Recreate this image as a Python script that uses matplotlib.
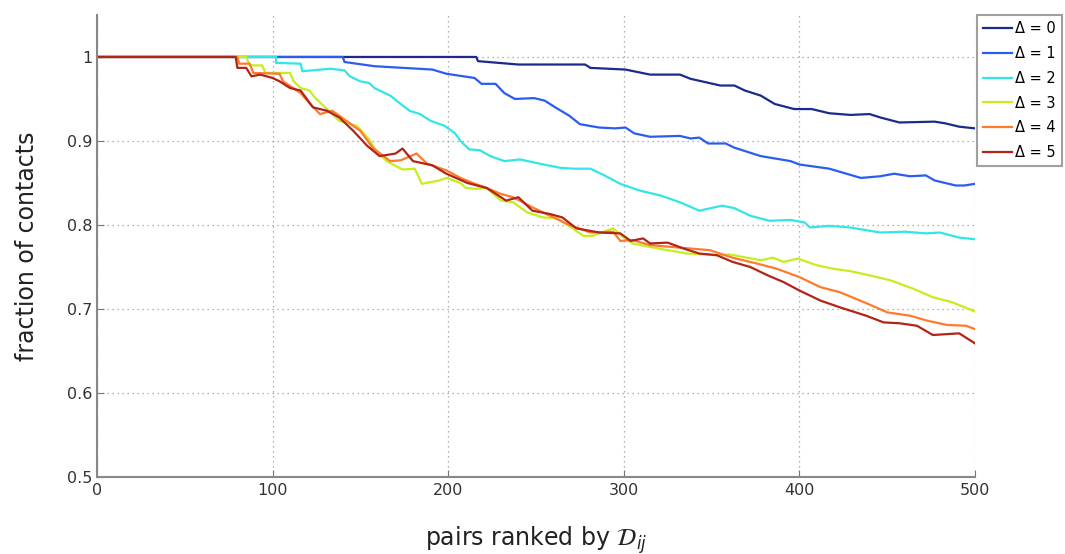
import matplotlib
matplotlib.use("Agg")
import matplotlib.pyplot as plt

# pairs ranked (x) vs fraction of contacts (y), one pair of lists per Delta
x_d0 = [0, 216, 217, 240, 278, 281, 301, 315, 332, 338, 355, 363, 369, 378, 386, 397,
        407, 417, 429, 440, 446, 457, 477, 483, 491, 500]
y_d0 = [1.0, 1.0, 0.995, 0.991, 0.991, 0.987, 0.985, 0.979, 0.979, 0.974, 0.966, 0.966,
        0.960, 0.954, 0.944, 0.938, 0.938, 0.933, 0.931, 0.932, 0.928, 0.922, 0.923,
        0.921, 0.917, 0.915]

x_d1 = [0, 140, 141, 158, 191, 199, 215, 219, 227, 232, 238, 249, 255, 261, 269, 275,
        286, 295, 301, 306, 315, 332, 338, 343, 348, 358, 363, 378, 395, 400, 417, 435,
        446, 454, 463, 472, 477, 489, 494, 500]
y_d1 = [1.0, 1.0, 0.994, 0.989, 0.985, 0.980, 0.975, 0.968, 0.968, 0.957, 0.950, 0.951,
        0.948, 0.940, 0.930, 0.920, 0.916, 0.915, 0.916, 0.909, 0.905, 0.906, 0.903,
        0.904, 0.897, 0.897, 0.892, 0.882, 0.876, 0.872, 0.867, 0.856, 0.858, 0.861,
        0.858, 0.859, 0.853, 0.847, 0.847, 0.849]

x_d2 = [0, 102, 102, 116, 117, 133, 141, 144, 150, 155, 158, 167, 173, 178, 184, 190,
        198, 204, 207, 212, 218, 224, 232, 241, 252, 264, 272, 281, 289, 298, 309, 321,
        332, 343, 356, 363, 372, 383, 395, 403, 406, 417, 429, 446, 460, 472, 480, 491, 500]
y_d2 = [1.0, 1.0, 0.993, 0.992, 0.983, 0.986, 0.984, 0.977, 0.971, 0.969, 0.963, 0.954,
        0.944, 0.936, 0.932, 0.924, 0.918, 0.909, 0.900, 0.890, 0.889, 0.882, 0.876,
        0.878, 0.873, 0.868, 0.867, 0.867, 0.859, 0.849, 0.841, 0.835, 0.827, 0.817,
        0.823, 0.820, 0.811, 0.805, 0.806, 0.803, 0.797, 0.799, 0.797, 0.791, 0.792,
        0.790, 0.791, 0.785, 0.783]

x_d3 = [0, 85, 87, 94, 96, 110, 112, 116, 121, 124, 129, 134, 138, 148, 155, 159, 165,
        174, 181, 185, 195, 199, 207, 210, 216, 222, 230, 237, 245, 254, 262, 268, 277,
        282, 294, 300, 305, 317, 336, 355, 360, 378, 385, 391, 399, 410, 419, 429, 440,
        452, 465, 476, 487, 500]
y_d3 = [1.0, 1.0, 0.990, 0.990, 0.981, 0.981, 0.971, 0.963, 0.960, 0.952, 0.942, 0.932,
        0.924, 0.918, 0.902, 0.888, 0.876, 0.866, 0.867, 0.849, 0.853, 0.856, 0.850,
        0.844, 0.843, 0.844, 0.829, 0.827, 0.815, 0.809, 0.808, 0.800, 0.787, 0.787,
        0.796, 0.785, 0.778, 0.773, 0.766, 0.764, 0.765, 0.758, 0.761, 0.756, 0.760,
        0.752, 0.748, 0.745, 0.740, 0.734, 0.724, 0.714, 0.708, 0.697]

x_d4 = [0, 80, 81, 87, 89, 104, 106, 116, 121, 127, 134, 142, 150, 157, 167, 173, 182,
        188, 199, 207, 214, 222, 230, 237, 248, 260, 269, 281, 294, 298, 305, 315, 349,
        362, 376, 387, 400, 412, 423, 438, 450, 463, 473, 484, 495, 500]
y_d4 = [1.0, 1.0, 0.992, 0.992, 0.981, 0.980, 0.971, 0.957, 0.945, 0.932, 0.936, 0.924,
        0.912, 0.892, 0.876, 0.877, 0.885, 0.873, 0.865, 0.856, 0.850, 0.844, 0.837,
        0.833, 0.821, 0.809, 0.800, 0.791, 0.792, 0.781, 0.782, 0.776, 0.770, 0.761,
        0.754, 0.748, 0.738, 0.726, 0.720, 0.707, 0.696, 0.692, 0.686, 0.681, 0.680,
        0.676]

x_d5 = [0, 79, 80, 85, 88, 93, 100, 104, 110, 116, 123, 131, 138, 146, 154, 161, 170,
        174, 180, 191, 199, 211, 222, 233, 240, 248, 258, 265, 273, 286, 298, 304, 311,
        315, 325, 334, 343, 353, 362, 372, 382, 391, 400, 412, 423, 438, 448, 457, 467,
        476, 491, 500]
y_d5 = [1.0, 1.0, 0.987, 0.987, 0.977, 0.979, 0.975, 0.971, 0.963, 0.960, 0.940, 0.936,
        0.928, 0.912, 0.894, 0.882, 0.885, 0.891, 0.876, 0.871, 0.861, 0.850, 0.844,
        0.829, 0.833, 0.817, 0.813, 0.809, 0.796, 0.791, 0.790, 0.781, 0.784, 0.778,
        0.779, 0.772, 0.766, 0.764, 0.756, 0.750, 0.740, 0.732, 0.722, 0.710, 0.702,
        0.692, 0.684, 0.683, 0.680, 0.669, 0.671, 0.659]

labels = ["\u0394 = 0", "\u0394 = 1", "\u0394 = 2", "\u0394 = 3", "\u0394 = 4", "\u0394 = 5"]
colors = ["#1c2a8c", "#2b5cf2", "#30e6e6", "#c6ee1e", "#ff7a2a", "#b22418"]
xs = [x_d0, x_d1, x_d2, x_d3, x_d4, x_d5]
ys = [y_d0, y_d1, y_d2, y_d3, y_d4, y_d5]

fig = plt.figure(figsize=(10.65, 5.54), dpi=100)
ax = fig.add_axes([0.091, 0.139, 0.8245, 0.834])

for x, y, c, lab in zip(xs, ys, colors, labels):
    ax.plot(x, y, color=c, lw=1.6, label=lab)

ax.set_xlim(0, 500)
ax.set_ylim(0.5, 1.05)
ax.set_xticks([0, 100, 200, 300, 400, 500])
ax.set_yticks([0.5, 0.6, 0.7, 0.8, 0.9, 1.0])
ax.set_yticklabels(["0.5", "0.6", "0.7", "0.8", "0.9", "1"])
ax.tick_params(direction="in", length=5, color="#777777", labelsize=11.5,
               labelcolor="#333333")
ax.tick_params(axis="x", pad=4)
ax.grid(True, linestyle=(0, (1, 3)), color="#999999", lw=0.9)

for s in ["top", "right"]:
    ax.spines[s].set_visible(False)
for s in ["left", "bottom"]:
    ax.spines[s].set_color("#888888")
    ax.spines[s].set_linewidth(1.5)

ax.set_ylabel("fraction of contacts", fontsize=17, color="#222222", labelpad=20)
ax.set_xlabel(r"pairs ranked by $\mathcal{D}_{ij}$", fontsize=17, color="#222222",
              labelpad=19)

leg = ax.legend(loc="upper left", bbox_to_anchor=(1.002, 1.0), fontsize=10.5,
                handlelength=2.0, handletextpad=0.25, labelspacing=0.68,
                fancybox=False, borderpad=0.4, borderaxespad=0.0)
leg.get_frame().set_edgecolor("#888888")
leg.get_frame().set_linewidth(1.5)

fig.savefig("out.png", dpi=100)
